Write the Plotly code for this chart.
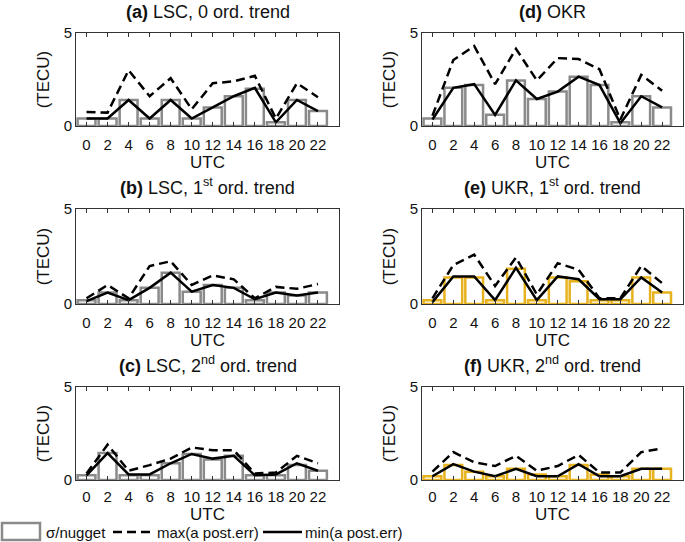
import plotly.graph_objects as go

utc = [0, 2, 4, 6, 8, 10, 12, 14, 16, 18, 20, 22]

# (a) LSC, 0 ord. trend
lsc0_nugget = [0.4, 0.4, 1.4, 0.4, 1.4, 0.4, 1.0, 1.6, 2.0, 0.2, 1.4, 0.8]
lsc0_max = [0.75, 0.72, 3.0, 1.6, 2.57, 0.9, 2.3, 2.4, 2.7, 0.4, 2.3, 1.55]
lsc0_min = [0.4, 0.4, 1.4, 0.4, 1.4, 0.4, 1.0, 1.6, 2.05, 0.2, 1.4, 0.8]

# (d) OKR
okr_nugget = [0.4, 2.05, 2.2, 0.6, 2.45, 1.45, 1.85, 2.65, 2.2, 0.2, 1.6, 1.0]
okr_max = [0.55, 3.55, 4.3, 2.25, 4.15, 2.45, 3.65, 3.6, 3.05, 0.35, 2.75, 1.9]
okr_min = [0.35, 2.05, 2.25, 0.6, 2.45, 1.45, 1.85, 2.65, 2.2, 0.15, 1.6, 1.0]

# (b) LSC, 1st ord. trend
lsc1_nugget = [0.2, 0.6, 0.2, 0.85, 1.65, 0.65, 1.0, 0.85, 0.2, 0.6, 0.45, 0.6]
lsc1_max = [0.3, 1.0, 0.3, 2.0, 2.25, 1.0, 1.5, 1.3, 0.3, 0.9, 0.8, 1.05]
lsc1_min = [0.15, 0.6, 0.2, 0.85, 1.65, 0.65, 1.0, 0.85, 0.25, 0.6, 0.45, 0.6]

# (e) UKR, 1st ord. trend
ukr1_nugget = [0.2, 1.4, 1.4, 0.2, 1.85, 0.2, 1.4, 1.2, 0.2, 0.2, 1.4, 0.6]
ukr1_max = [0.3, 2.05, 2.6, 0.95, 2.45, 0.5, 2.15, 1.8, 0.3, 0.3, 2.0, 1.1]
ukr1_min = [0.1, 1.45, 1.45, 0.2, 1.9, 0.2, 1.45, 1.3, 0.25, 0.25, 1.4, 0.6]

# (c) LSC, 2nd ord. trend
lsc2_nugget = [0.25, 1.45, 0.25, 0.25, 0.9, 1.4, 1.1, 1.3, 0.25, 0.25, 0.8, 0.5]
lsc2_max = [0.35, 1.9, 0.5, 0.8, 1.15, 1.75, 1.6, 1.6, 0.35, 0.4, 1.3, 0.9]
lsc2_min = [0.25, 1.45, 0.3, 0.3, 0.9, 1.4, 1.15, 1.3, 0.25, 0.3, 0.9, 0.5]

# (f) UKR, 2nd ord. trend
ukr2_nugget = [0.2, 0.8, 0.45, 0.2, 0.6, 0.3, 0.2, 0.8, 0.3, 0.2, 0.6, 0.6]
ukr2_max = [0.45, 1.5, 0.95, 0.75, 1.3, 0.5, 0.75, 1.35, 0.4, 0.4, 1.5, 1.7]
ukr2_min = [0.2, 0.85, 0.45, 0.2, 0.6, 0.2, 0.2, 0.85, 0.2, 0.2, 0.6, 0.6]

legend_labels = ["\u03c3/nugget", "max(a post.err)", "min(a post.err)"]

GREY = "#8a8a8a"
GOLD = "#e6b21e"
FONT = "Liberation Sans, Arial, sans-serif"
INK = "#111111"

W, H = 685, 542
col_x = [(76, 339), (422, 683)]
row_y = [(33, 126), (209, 304), (387, 480)]

panels = [
    # (row, col, title, nugget, max, min, bar colour)
    (0, 0, "<b>(a)</b> LSC, 0 ord. trend", lsc0_nugget, lsc0_max, lsc0_min, GREY),
    (1, 0, "<b>(b)</b> LSC, 1<sup>st</sup> ord. trend", lsc1_nugget, lsc1_max, lsc1_min, GREY),
    (2, 0, "<b>(c)</b> LSC, 2<sup>nd</sup> ord. trend", lsc2_nugget, lsc2_max, lsc2_min, GREY),
    (0, 1, "<b>(d)</b> OKR", okr_nugget, okr_max, okr_min, GREY),
    (1, 1, "<b>(e)</b> UKR, 1<sup>st</sup> ord. trend", ukr1_nugget, ukr1_max, ukr1_min, GOLD),
    (2, 1, "<b>(f)</b> UKR, 2<sup>nd</sup> ord. trend", ukr2_nugget, ukr2_max, ukr2_min, GOLD),
]

fig = go.Figure()
annotations = []
shapes = []
axis_style = dict(
    showline=True, linecolor="#333333", linewidth=1, mirror="ticks",
    ticks="inside", ticklen=4, tickcolor="#333333", showgrid=False,
    zeroline=False, automargin=False,
    tickfont=dict(size=15, color=INK, family=FONT),
)

for i, (r, c, title, nug, mx, mn, color) in enumerate(panels):
    n = "" if i == 0 else str(i + 1)
    xa, ya = "x" + n, "y" + n
    fig.add_trace(go.Bar(
        x=utc, y=nug, width=1.7, xaxis=xa, yaxis=ya,
        marker_color="white", marker_line_color=color, marker_line_width=2.5,
        name=legend_labels[0],
    ))
    fig.add_trace(go.Scatter(
        x=utc, y=mx, mode="lines", xaxis=xa, yaxis=ya,
        line=dict(color="black", width=2.5, dash="9px,5px"),
        name=legend_labels[1],
    ))
    fig.add_trace(go.Scatter(
        x=utc, y=mn, mode="lines", xaxis=xa, yaxis=ya,
        line=dict(color="black", width=2.5),
        name=legend_labels[2],
    ))
    x0, x1 = col_x[c]
    y0, y1 = row_y[r]
    bottom_row = r == 2
    fig.layout["xaxis" + n] = dict(
        axis_style, domain=[x0 / W, x1 / W], anchor=ya, range=[-1, 24],
        tickvals=utc, ticklabelstandoff=3 if bottom_row else 5,
        title=dict(text="UTC", font=dict(size=17, family=FONT, color=INK),
                   standoff=0 if bottom_row else 1),
    )
    fig.layout["yaxis" + n] = dict(
        axis_style, domain=[1 - y1 / H, 1 - y0 / H], anchor=xa, range=[0, 5],
        tickvals=[0, 5],
        title=dict(text="(TECU)", font=dict(size=17, family=FONT, color=INK), standoff=9),
    )
    annotations.append(dict(
        text=title, xref="paper", yref="paper", x=(x0 + x1) / 2 / W, y=1 - y0 / H,
        xanchor="center", yanchor="bottom", yshift=9, showarrow=False,
        font=dict(size=18, family=FONT, color=INK),
    ))

# MATLAB-style legend row along the bottom edge (wide box key, line keys)
ly = 1 - 532 / H
shapes.append(dict(type="rect", xref="paper", yref="paper",
                   x0=2 / W, x1=40 / W, y0=1 - 540 / H, y1=1 - 523 / H,
                   line=dict(color=GREY, width=2.5), fillcolor="white"))
shapes.append(dict(type="line", xref="paper", yref="paper",
                   x0=113 / W, x1=153 / W, y0=ly, y1=ly,
                   line=dict(color="black", width=2.5, dash="9px,5px")))
shapes.append(dict(type="line", xref="paper", yref="paper",
                   x0=263 / W, x1=302 / W, y0=ly, y1=ly,
                   line=dict(color="black", width=2.5)))
for label, lx in zip(legend_labels, [44, 155, 303]):
    annotations.append(dict(
        text=label, xref="paper", yref="paper", x=lx / W, y=ly,
        xanchor="left", yanchor="middle", showarrow=False,
        font=dict(size=15, family=FONT, color=INK),
    ))

fig.update_layout(
    template="none",
    width=W, height=H,
    margin=dict(l=0, r=0, t=0, b=0),
    paper_bgcolor="white", plot_bgcolor="white",
    font=dict(family=FONT, color=INK),
    barmode="overlay",
    showlegend=False,
    annotations=annotations,
    shapes=shapes,
)

# page body has a default 8px margin; drop it so the figure sits at 0,0
fig.write_html(
    "out.html",
    config={"displayModeBar": False},
    post_script="document.body.style.margin = '0';",
)
